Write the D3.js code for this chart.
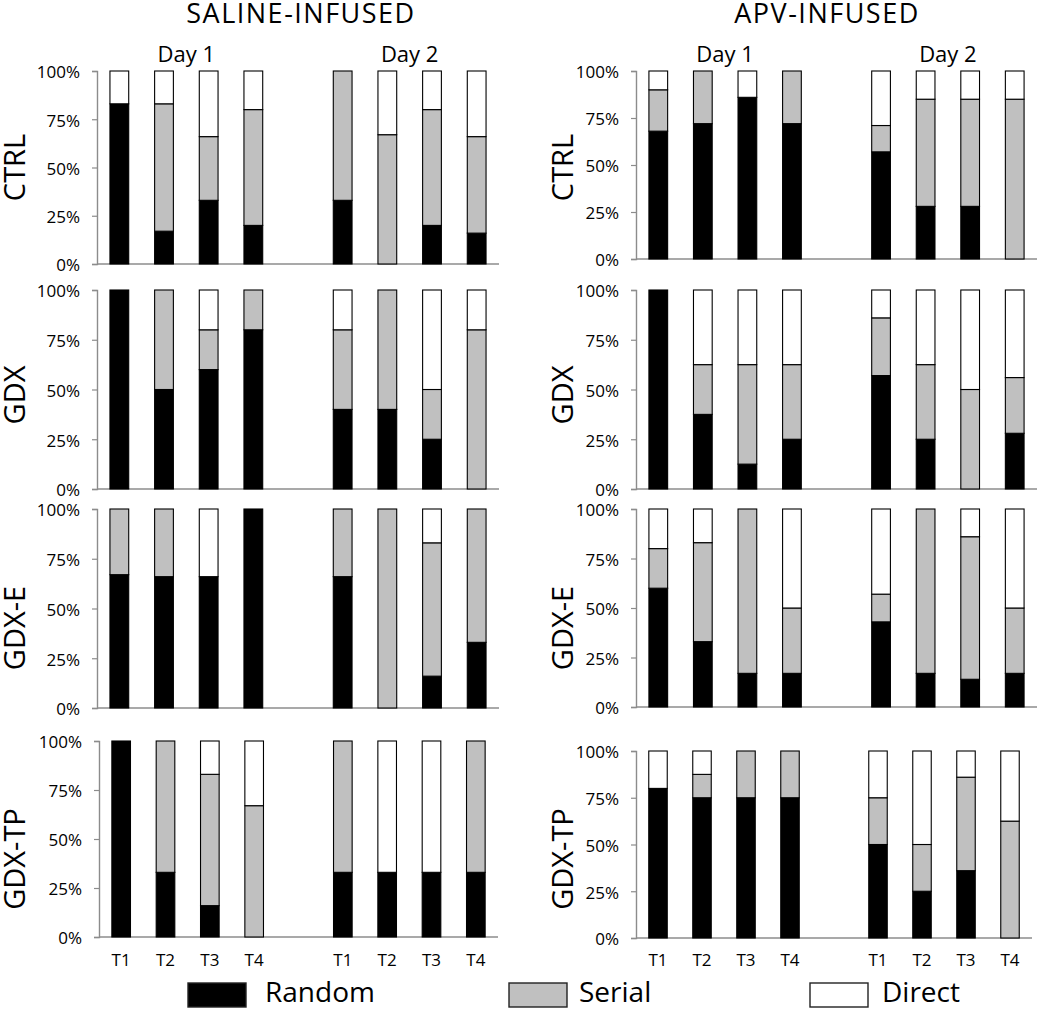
<!DOCTYPE html>
<html><head><meta charset="utf-8">
<script src="https://cdn.jsdelivr.net/npm/d3@7"></script>
<style>
html,body{margin:0;padding:0;background:#fff;}
text{font-family:"Open Sans","Liberation Sans",sans-serif;fill:#000;}
</style>
</head><body>
<svg id="chart" width="1050" height="1010"></svg>
<script>
// ---------- data ----------
const groups = ["SALINE-INFUSED", "APV-INFUSED"];
const rows = ["CTRL", "GDX", "GDX-E", "GDX-TP"];
const days = ["Day 1", "Day 2"];
const trials = ["T1", "T2", "T3", "T4"];
const seriesNames = ["Random", "Serial", "Direct"];
const yTicks = [0, 25, 50, 75, 100];

// each row: Day1 T1..T4, Day2 T1..T4 (percent)
const salineRandom = [
  [83, 17, 33, 20, 33, 0, 20, 16],
  [100, 50, 60, 80, 40, 40, 25, 0],
  [67, 66, 66, 100, 66, 0, 16, 33],
  [100, 33, 16, 0, 33, 33, 33, 33]
];
const salineSerial = [
  [0, 66, 33, 60, 67, 67, 60, 50],
  [0, 50, 20, 20, 40, 60, 25, 80],
  [33, 34, 0, 0, 34, 100, 67, 67],
  [0, 67, 67, 67, 67, 0, 0, 67]
];
const salineDirect = [
  [17, 17, 34, 20, 0, 33, 20, 34],
  [0, 0, 20, 0, 20, 0, 50, 20],
  [0, 0, 34, 0, 0, 0, 17, 0],
  [0, 0, 17, 33, 0, 67, 67, 0]
];
const apvRandom = [
  [68, 72, 86, 72, 57, 28, 28, 0],
  [100, 37.5, 12.5, 25, 57, 25, 0, 28],
  [60, 33, 17, 17, 43, 17, 14, 17],
  [80, 75, 75, 75, 50, 25, 36, 0]
];
const apvSerial = [
  [22, 28, 0, 28, 14, 57, 57, 85],
  [0, 25, 50, 37.5, 29, 37.5, 50, 28],
  [20, 50, 83, 33, 14, 83, 72, 33],
  [0, 12.5, 25, 25, 25, 25, 50, 62.5]
];
const apvDirect = [
  [10, 0, 14, 0, 29, 15, 15, 15],
  [0, 37.5, 37.5, 37.5, 14, 37.5, 50, 44],
  [20, 17, 0, 50, 43, 0, 14, 50],
  [20, 12.5, 0, 0, 25, 50, 14, 37.5]
];

const groupData = [
  {random: salineRandom, serial: salineSerial, direct: salineDirect},
  {random: apvRandom, serial: apvSerial, direct: apvDirect}
];

// ---------- layout ----------
const colors = {Random: "#000000", Serial: "#c0c0c0", Direct: "#ffffff"};
const panelGeom = [
  [{x0: 97, x1: 499, yT: 71, yB: 264}, {x0: 97, x1: 499, yT: 290, yB: 489},
   {x0: 97, x1: 499, yT: 509, yB: 708}, {x0: 99, x1: 498, yT: 741, yB: 937}],
  [{x0: 636, x1: 1037, yT: 71, yB: 259}, {x0: 636, x1: 1037, yT: 290, yB: 489},
   {x0: 636, x1: 1037, yT: 509, yB: 707}, {x0: 636, x1: 1032, yT: 751, yB: 938}]
];
const titleX = [301, 827];
const rowLabelX = [25, 573];
const rowLabelY = [167.5, 395, 628, 859];

const svg = d3.select("#chart");

// slots: Day1 T1-T4, gap, Day2 T1-T4
const slots = [];
days.forEach((d, di) => {
  if (di > 0) slots.push("gap" + di);
  trials.forEach(t => slots.push(d + "|" + t));
});

const stack = d3.stack().keys(seriesNames);

groups.forEach((g, gi) => {
  svg.append("text")
    .attr("x", titleX[gi]).attr("y", 23)
    .attr("text-anchor", "middle")
    .style("font-size", "27px").style("letter-spacing", "1.5px")
    .text(g);

  rows.forEach((r, ri) => {
    const geo = panelGeom[gi][ri];
    const x = d3.scaleBand().domain(slots).range([geo.x0, geo.x1])
      .paddingInner(0.58).paddingOuter(0.29);
    const y = d3.scaleLinear().domain([0, 100]).range([geo.yB, geo.yT]);
    const gp = svg.append("g");

    // table
    const table = [];
    let k = 0;
    days.forEach(d => trials.forEach(t => {
      table.push({slot: d + "|" + t, Random: groupData[gi].random[ri][k],
        Serial: groupData[gi].serial[ri][k], Direct: groupData[gi].direct[ri][k]});
      k++;
    }));
    const stacked = stack(table);

    // axes
    const yAxis = d3.axisLeft(y).tickValues(yTicks).tickSize(5).tickPadding(12)
      .tickFormat(d => d + "%");
    const ya = gp.append("g").attr("transform", `translate(${geo.x0},0)`).call(yAxis);
    ya.select(".domain").attr("stroke", "#8c8c8c").attr("stroke-width", 1.4);
    ya.selectAll(".tick line").attr("stroke", "#8c8c8c").attr("stroke-width", 1.2);
    ya.selectAll(".tick text").style("font-size", "17px")
      .style("font-family", "'Open Sans', sans-serif").attr("fill", "#000")
      .attr("dy", "0.4em");

    gp.append("line")
      .attr("x1", geo.x0).attr("x2", geo.x1)
      .attr("y1", y(0)).attr("y2", y(0))
      .attr("stroke", "#8c8c8c").attr("stroke-width", 1.4);

    // bars
    stacked.forEach(s => {
      gp.append("g").selectAll("rect")
        .data(s.filter(d => d[1] - d[0] > 0))
        .join("rect")
        .attr("x", d => x(d.data.slot))
        .attr("width", x.bandwidth())
        .attr("y", d => y(d[1]))
        .attr("height", d => y(d[0]) - y(d[1]))
        .attr("fill", colors[s.key])
        .attr("stroke", "#000").attr("stroke-width", 1.1);
    });

    // day labels (top row)
    if (ri === 0) {
      days.forEach(d => {
        const cx = (x(d + "|" + trials[0]) + x(d + "|" + trials[trials.length - 1]) + x.bandwidth()) / 2;
        gp.append("text").attr("x", cx).attr("y", 62)
          .attr("text-anchor", "middle").style("font-size", "22px").text(d);
      });
    }
    // trial labels (bottom row)
    if (ri === rows.length - 1) {
      days.forEach(d => trials.forEach(t => {
        gp.append("text").attr("x", x(d + "|" + t) + x.bandwidth() / 2).attr("y", 966)
          .attr("text-anchor", "middle").style("font-size", "17px").text(t);
      }));
    }

    // row label
    svg.append("text")
      .attr("transform", `translate(${rowLabelX[gi]},${rowLabelY[ri]}) rotate(-90)`)
      .attr("text-anchor", "middle")
      .style("font-size", "29px").text(r);
  });
});

// legend
const legendPos = [{bx: 188, tx: 265}, {bx: 509, tx: 579}, {bx: 810, tx: 882}];
seriesNames.forEach((n, i) => {
  svg.append("rect").attr("x", legendPos[i].bx).attr("y", 983)
    .attr("width", 58).attr("height", 24)
    .attr("fill", colors[n]).attr("stroke", "#222").attr("stroke-width", 1.4);
  svg.append("text").attr("x", legendPos[i].tx).attr("y", 1002)
    .style("font-size", "28px").text(n);
});
</script>
</body></html>
